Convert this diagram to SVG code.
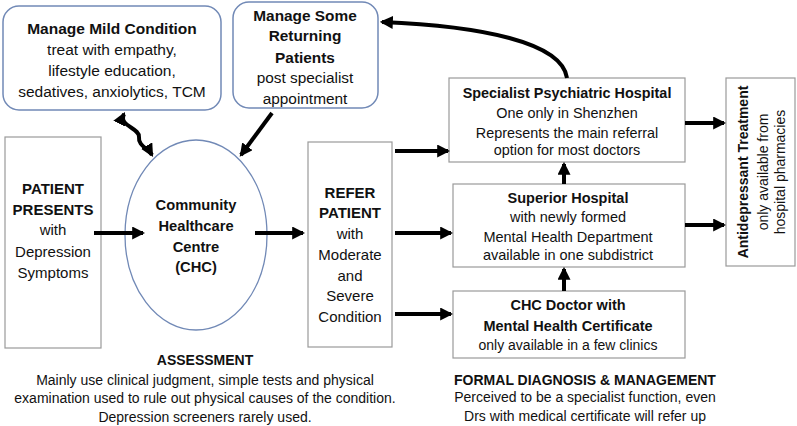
<svg xmlns="http://www.w3.org/2000/svg" width="797" height="426" viewBox="0 0 797 426">
<defs>
<style>
text{font-family:"Liberation Sans",Arial,sans-serif;font-size:14px;fill:#111;text-anchor:middle}
.b{font-weight:bold}
.rbox{fill:#fff;stroke:#7189b6;stroke-width:1.5}
.box{fill:#fff;stroke:#9a9a9a;stroke-width:1.2}
.arr{fill:none;stroke:#000;stroke-width:4}
</style>
<marker id="ah" viewBox="0 0 12 12" markerUnits="userSpaceOnUse" markerWidth="13" markerHeight="13" refX="10" refY="6" orient="auto-start-reverse">
<path d="M0,0 L12,6 L0,12 z" fill="#000"/>
</marker>
</defs>
<rect width="797" height="426" fill="#fff"/>

<g id="mild" style="font-size:15.5px">
<rect class="rbox" x="3" y="6" width="218" height="104" rx="16"/>
<text class="b" x="112" y="34" style="font-size:15.5px">Manage Mild Condition</text>
<text x="112" y="55" style="font-size:15.5px">treat with empathy,</text>
<text x="112" y="76" style="font-size:15.5px">lifestyle education,</text>
<text x="112" y="97" style="font-size:15.5px">sedatives, anxiolytics, TCM</text>
</g>

<g id="returning">
<rect class="rbox" x="233" y="2" width="145" height="106" rx="16"/>
<text class="b" x="305" y="21" style="font-size:15.4px">Manage Some</text>
<text class="b" x="305" y="41" style="font-size:15.4px">Returning</text>
<text class="b" x="305" y="63" style="font-size:15.4px">Patients</text>
<text x="305" y="83" style="font-size:15.4px">post specialist</text>
<text x="305" y="104" style="font-size:15.4px">appointment</text>
</g>

<g id="patient">
<rect class="box" x="5" y="137" width="96" height="211"/>
<text class="b" x="53" y="194" style="font-size:15px">PATIENT</text>
<text class="b" x="53" y="215" style="font-size:15px">PRESENTS</text>
<text x="53" y="235" style="font-size:15px">with</text>
<text x="53" y="257" style="font-size:15px">Depression</text>
<text x="53" y="278" style="font-size:15px">Symptoms</text>
</g>

<g id="chc">
<ellipse cx="196" cy="235" rx="71" ry="95" fill="#fff" stroke="#7189b6" stroke-width="1.3"/>
<text class="b" x="196" y="210" style="font-size:14.7px">Community</text>
<text class="b" x="196" y="231" style="font-size:14.7px">Healthcare</text>
<text class="b" x="196" y="252" style="font-size:14.7px">Centre</text>
<text class="b" x="196" y="272" style="font-size:14.7px">(CHC)</text>
</g>

<g id="refer">
<rect class="box" x="308" y="142" width="84" height="205"/>
<text class="b" x="350" y="198" style="font-size:15px">REFER</text>
<text class="b" x="350" y="218" style="font-size:15px">PATIENT</text>
<text x="350" y="239" style="font-size:15px">with</text>
<text x="350" y="260" style="font-size:15px">Moderate</text>
<text x="350" y="281" style="font-size:15px">and</text>
<text x="350" y="301" style="font-size:15px">Severe</text>
<text x="350" y="322" style="font-size:15px">Condition</text>
</g>

<g id="specialist">
<rect class="box" x="449" y="78" width="236" height="84"/>
<text class="b" x="567" y="98" style="font-size:14.4px">Specialist Psychiatric Hospital</text>
<text x="567" y="118" style="font-size:14.4px">One only in Shenzhen</text>
<text x="567" y="138" style="font-size:14.4px">Represents the main referral</text>
<text x="567" y="155" style="font-size:14.4px">option for most doctors</text>
</g>

<g id="superior">
<rect class="box" x="453" y="184" width="232" height="83"/>
<text class="b" x="568" y="203" style="font-size:14.5px">Superior Hospital</text>
<text x="568" y="222" style="font-size:14.5px">with newly formed</text>
<text x="568" y="242" style="font-size:14.5px">Mental Health Department</text>
<text x="568" y="260" style="font-size:14.5px">available in one subdistrict</text>
</g>

<g id="chcdoctor">
<rect class="box" x="453" y="291" width="232" height="67"/>
<text class="b" x="568" y="310" style="font-size:14.5px">CHC Doctor with</text>
<text class="b" x="568" y="331" style="font-size:14.5px">Mental Health Certificate</text>
<text x="568" y="350">only available in a few clinics</text>
</g>

<g id="antidepressant">
<rect class="box" x="726" y="78" width="69" height="188"/>
<g transform="translate(760,172) rotate(-90)">
<text class="b" x="0" y="-12">Antidepressant Treatment</text>
<text x="0" y="8">only available from</text>
<text x="0" y="25">hospital pharmacies</text>
</g>
</g>

<g id="assessment">
<text class="b" x="205" y="365">ASSESSMENT</text>
<text x="205" y="385">Mainly use clinical judgment, simple tests and physical</text>
<text x="205" y="403">examination used to rule out physical causes of the condition.</text>
<text x="205" y="422">Depression screeners rarely used.</text>
</g>

<g id="formal">
<text class="b" x="585" y="385">FORMAL DIAGNOSIS &amp; MANAGEMENT</text>
<text x="585" y="402">Perceived to be a specialist function, even</text>
<text x="585" y="421">Drs with medical certificate will refer up</text>
</g>

<g id="connectors">
<path class="arr" d="M94,233 L143,233" marker-end="url(#ah)"/>
<path class="arr" d="M255,233 L303,233" marker-end="url(#ah)"/>
<path class="arr" d="M395,151 L448,151" marker-end="url(#ah)"/>
<path class="arr" d="M395,233 L451,233" marker-end="url(#ah)"/>
<path class="arr" d="M395,314 L451,314" marker-end="url(#ah)"/>
<path class="arr" d="M564,184 L564,164" marker-end="url(#ah)"/>
<path class="arr" d="M564,291 L564,269" marker-end="url(#ah)"/>
<path class="arr" d="M685,123 L724,123" marker-end="url(#ah)"/>
<path class="arr" d="M685,225 L724,225" marker-end="url(#ah)"/>
<path class="arr" d="M567,78 C562,42 480,26 382,22" marker-end="url(#ah)"/>
<path class="arr" d="M272,113 L241,155" marker-end="url(#ah)"/>
<path class="arr" d="M124,114 C118,126 140,128 139,137 C138,146 148,148 152,155" marker-start="url(#ah)" marker-end="url(#ah)"/>
</g>
</svg>
